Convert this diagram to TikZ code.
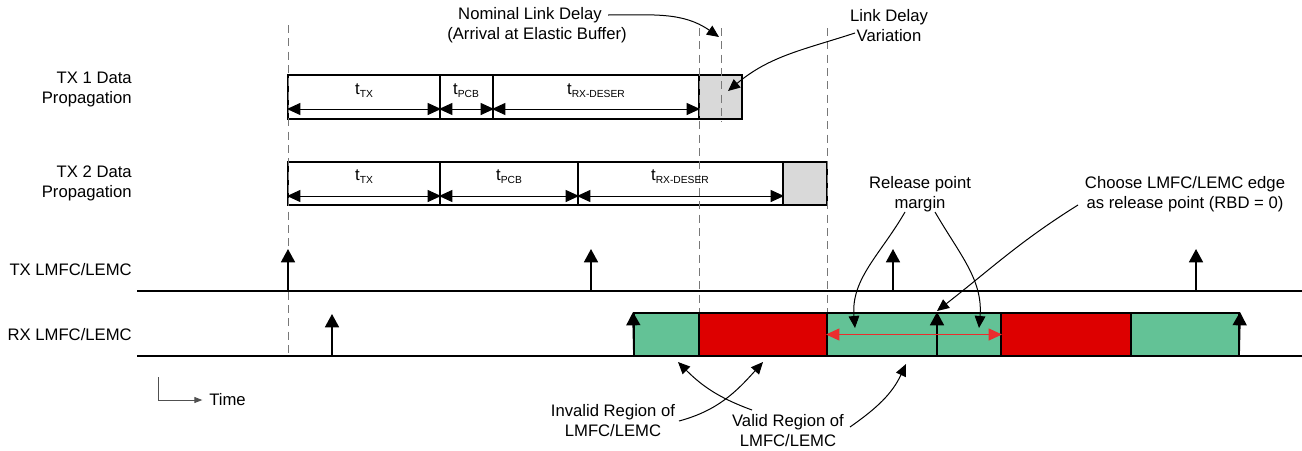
\documentclass[tikz,border=0pt]{standalone}
\usepackage{fontspec}
\setmainfont{Liberation Sans}
\usetikzlibrary{arrows.meta,fit}
\definecolor{okgreen}{RGB}{99,194,150}
\definecolor{badred}{RGB}{221,0,0}
\definecolor{dashgray}{RGB}{120,120,120}
\definecolor{margred}{RGB}{235,45,45}
\definecolor{boxgray}{RGB}{217,217,217}
\definecolor{timegray}{RGB}{80,80,80}
\newcommand\subs[1]{\raisebox{-0.35ex}{\fontsize{7.7}{8}\selectfont #1}}
\begin{document}
\begin{tikzpicture}[x=0.75pt,y=-0.75pt,
  lbl/.style={font=\fontsize{12.5}{15}\selectfont, align=center, inner sep=0pt},
  seg/.style={draw, line width=1.5pt, inner sep=0pt},
  dim/.style={line width=0.75pt, {Triangle[length=10pt,width=9pt]}-{Triangle[length=10pt,width=9pt]}},
  clk/.style={line width=1.3pt, -{Triangle[length=10pt,width=10.5pt]}},
  call/.style={line width=0.75pt, -{Triangle[length=9pt,width=8pt]}},
  dline/.style={dashgray, line width=0.75pt, dash pattern=on 6pt off 4pt},
  base/.style={line width=1.5pt},
  marg/.style={margred, line width=0.75pt, {Triangle[length=10pt,width=9pt]}-{Triangle[length=10pt,width=9pt]}},
  timearr/.style={timegray, line width=0.75pt, -{Triangle[length=6pt,width=4.5pt]}}]
\useasboundingbox (0,0) rectangle (1302,450);

% dashed reference lines
\coordinate (d1t) at (288,25);  \coordinate (d1b) at (288,356);
\coordinate (d2t) at (699,28);  \coordinate (d2b) at (699,313);
\coordinate (d3t) at (721,28);  \coordinate (d3b) at (721,122);
\coordinate (d4t) at (827,28);  \coordinate (d4b) at (827,313);

% row labels
\node[lbl, align=right, anchor=east] (r1lbl) at (132,89) {TX 1 Data\\Propagation};
\node[lbl, align=right, anchor=east] (r2lbl) at (132,183) {TX 2 Data\\Propagation};
\node[lbl, anchor=east] (txl) at (132,270) {TX LMFC/LEMC};
\node[lbl, anchor=east] (rxl) at (132,335) {RX LMFC/LEMC};

% TX1 boxes
\node[seg, fit={(288,75) (440,119)}] (a1) {};
\node[seg, fit={(440,75) (493,119)}] (b1) {};
\node[seg, fit={(493,75) (699,119)}] (c1) {};
\node[seg, fill=boxgray, fit={(699,75) (742,119)}] (g1) {};
% TX2 boxes
\node[seg, fit={(288,162) (440,205)}] (a2) {};
\node[seg, fit={(440,162) (578,205)}] (b2) {};
\node[seg, fit={(578,162) (783,205)}] (c2) {};
\node[seg, fill=boxgray, fit={(783,162) (827,205)}] (g2) {};

\draw[dline] (d1t) -- (d1b);
\draw[dline] (d2t) -- (d2b);
\draw[dline] (d3t) -- (d3b);
\draw[dline] (d4t) -- (d4b);

% box labels
\node[lbl] (la1) at (364,91) {t\subs{TX}};
\node[lbl] (lb1) at (466,91) {t\subs{PCB}};
\node[lbl] (lc1) at (596,91) {t\subs{RX-DESER}};
\node[lbl] (la2) at (364,177) {t\subs{TX}};
\node[lbl] (lb2) at (509,177) {t\subs{PCB}};
\node[lbl] (lc2) at (680,177) {t\subs{RX-DESER}};

% dimension arrows
\foreach \b in {a1,b1,c1}{
  \draw[dim] ([yshift=8.25pt]\b.south west) -- ([yshift=8.25pt]\b.south east);}
\foreach \b in {a2,b2,c2}{
  \draw[dim] ([yshift=7.5pt]\b.south west) -- ([yshift=7.5pt]\b.south east);}

% baselines
\coordinate (txs) at (137,291); \coordinate (txe) at (1302,291);
\coordinate (rxs) at (137,356); \coordinate (rxe) at (1302,356);
\draw[base] (txs) -- (txe);
\draw[base] (rxs) -- (rxe);

% TX clock edges
\foreach \x/\n in {288/t1,591/t2,893/t3,1196/t4}{
  \coordinate (\n) at (\x,291);
  \draw[clk] (\n) -- ++(0,-42);}

% RX regions
\node[seg, fill=okgreen, fit={(634,313) (699,356)}] (r1) {};
\node[seg, fill=badred, fit={(699,313) (827,356)}] (r2) {};
\node[seg, fill=okgreen, fit={(827,313) (1001,356)}] (r3) {};
\node[seg, fill=badred, fit={(1001,313) (1131,356)}] (r4) {};
\node[seg, fill=okgreen, fit={(1131,313) (1239,356)}] (r5) {};

% RX clock edges
\foreach \x/\n in {332/e1,634/e2,937/e3,1239/e4}{
  \coordinate (\n) at (\x,356);}
\draw[clk] (e1) -- ++(0,-42);
\draw[clk] (e2) -- (r1.north west);
\draw[clk] (e3) -- (e3 |- r3.north);
\draw[clk] (e4) -- (r5.north east);

% release margin
\draw[marg] (r3.west) -- (r3.east);

% callout texts
\node[lbl] (nld) at (537,25) {Nominal Link Delay\hspace*{10.5pt}\\(Arrival at Elastic Buffer)};
\node[lbl] (ldv) at (889,26) {Link Delay\\Variation};
\node[lbl] (rpm) at (920,194) {Release point\\margin};
\node[lbl] (cho) at (1185,194) {Choose LMFC/LEMC edge\\as release point (RBD = 0)};
\node[lbl] (inv) at (613,421) {Invalid Region of\\LMFC/LEMC};
\node[lbl] (val) at (788,431) {Valid Region of\\LMFC/LEMC};

% callout ends
\coordinate (nldA) at (608,15);  \coordinate (nldT) at (719,37);
\coordinate (ldvA) at (855,33);  \coordinate (ldvT) at (728,91);
\coordinate (rpmA) at (905,212); \coordinate (rpmT) at (855,328);
\coordinate (rpmB) at (935,212); \coordinate (rpmU) at (979,328);
\coordinate (choA) at (1078,205);\coordinate (choT) at (937,311);
\coordinate (invA) at (679,421); \coordinate (invT) at (763,362);
\coordinate (valA) at (752,410); \coordinate (valT) at (678,362);
\coordinate (valB) at (850,427); \coordinate (valU) at (906,364);

\draw[call] (nldA) to[out=0, in=145] (nldT);
\draw[call] (ldvA) to[out=198, in=40] (ldvT);
\draw[call] (rpmA) to[out=240, in=95] (rpmT);
\draw[call] (rpmB) to[out=-60, in=85] (rpmU);
\draw[call] (choA) to[out=212, in=38] (choT);
\draw[call] (invA) to[out=15, in=228] (invT);
\draw[call] (valA) to[out=160, in=-45] (valT);
\draw[call] (valB) to[out=35, in=-115] (valU);

% time legend
\node[lbl, anchor=west] (time) at (209,400) {Time};
\coordinate (tm0) at (158,377);
\draw[timearr] (tm0) |- ([xshift=-5pt]time.west);
\end{tikzpicture}
\end{document}
